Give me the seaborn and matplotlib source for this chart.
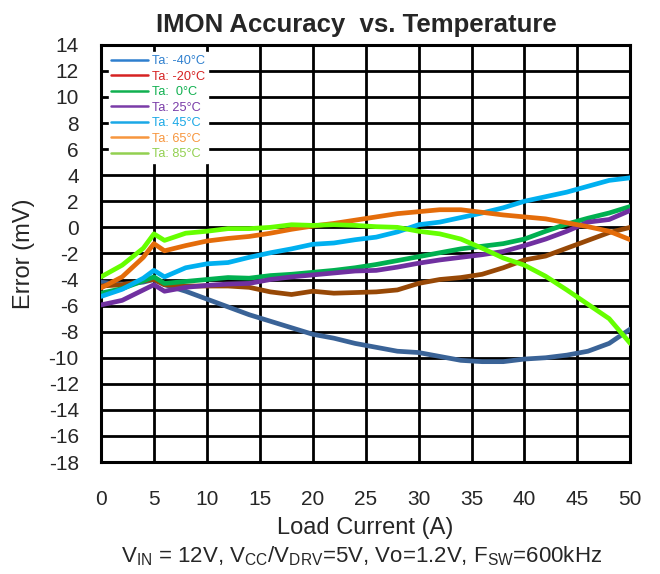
import matplotlib
matplotlib.use("Agg")
import matplotlib.pyplot as plt
from matplotlib.lines import Line2D
import numpy as np
import pandas as pd
import seaborn as sns

# load current (A)
current = [0, 2, 4, 5, 6, 8, 10, 12, 14, 16, 18, 20, 22, 24, 26,
           28, 30, 32, 34, 36, 38, 40, 42, 44, 46, 48, 50]

# IMON error (mV) per ambient temperature
err_m40 = [-4.2, -4.4, -4.2, -4.0, -4.4, -4.9, -5.5, -6.1, -6.7, -7.2, -7.7, -8.2, -8.5, -8.9,
           -9.2, -9.5, -9.6, -9.9, -10.2, -10.3, -10.3, -10.1, -10.0, -9.8, -9.5, -8.9, -7.8]
err_m20 = [-4.5, -4.4, -4.1, -4.0, -4.4, -4.5, -4.5, -4.5, -4.6, -4.95, -5.15, -4.9, -5.05, -5.0,
           -4.95, -4.8, -4.3, -4.0, -3.85, -3.6, -3.1, -2.5, -2.2, -1.6, -1.0, -0.4, 0.0]
err_0 = [-5.05, -4.7, -4.1, -3.8, -4.3, -4.15, -4.0, -3.85, -3.9, -3.7, -3.6, -3.45, -3.3, -3.1,
         -2.85, -2.55, -2.25, -1.95, -1.65, -1.45, -1.25, -0.9, -0.3, 0.25, 0.7, 1.1, 1.6]
err_25 = [-5.95, -5.6, -4.8, -4.4, -4.9, -4.6, -4.45, -4.35, -4.3, -4.0, -3.8, -3.65, -3.5, -3.35,
          -3.3, -3.05, -2.75, -2.5, -2.3, -2.1, -1.85, -1.4, -0.9, -0.3, 0.4, 0.6, 1.3]
err_45 = [-5.3, -4.75, -3.9, -3.3, -3.8, -3.1, -2.8, -2.7, -2.3, -1.95, -1.65, -1.3, -1.2, -0.95,
          -0.75, -0.35, 0.2, 0.4, 0.75, 1.1, 1.5, 2.0, 2.35, 2.7, 3.15, 3.6, 3.8]
err_65 = [-4.65, -3.8, -2.3, -1.25, -1.8, -1.4, -1.05, -0.85, -0.7, -0.45, -0.15, 0.1, 0.3, 0.55,
          0.8, 1.05, 1.2, 1.35, 1.35, 1.15, 0.95, 0.8, 0.65, 0.35, 0.05, -0.3, -0.95]
err_85 = [-3.8, -2.9, -1.6, -0.5, -1.0, -0.45, -0.3, -0.1, -0.1, 0.0, 0.2, 0.15, 0.2, 0.15,
          0.05, 0.0, -0.3, -0.5, -0.9, -1.6, -2.35, -2.9, -3.75, -4.8, -5.9, -7.0, -8.9]

labels = ["Ta: -40°C", "Ta: -20°C", "Ta:  0°C", "Ta: 25°C", "Ta: 45°C", "Ta: 65°C", "Ta: 85°C"]
series = [err_m40, err_m20, err_0, err_25, err_45, err_65, err_85]

line_colors = ["#3a6397", "#974806", "#00b050", "#7030a0", "#00b0f0", "#e46c0a", "#66ff00"]
legend_colors = ["#2e7fce", "#d62222", "#10b050", "#7a3ca8", "#1aa8e6", "#f7963e", "#92d050"]

df = pd.concat([pd.DataFrame({"current": current, "error": s, "temp": lab})
                for lab, s in zip(labels, series)], ignore_index=True)

sns.set_style("white")
plt.rcParams["font.family"] = ["Liberation Sans", "DejaVu Sans"]
plt.rcParams["mathtext.fontset"] = "custom"
plt.rcParams["mathtext.rm"] = "Liberation Sans"
plt.rcParams["axes.unicode_minus"] = False

fig = plt.figure(figsize=(6.6, 5.74), dpi=100)
ax = fig.add_axes([0.153, 0.195, 0.802, 0.727])

sns.lineplot(data=df, x="current", y="error", hue="temp", palette=line_colors,
             linewidth=3.4, ax=ax, legend=False, zorder=3)

ax.set_xlim(0, 50)
ax.set_ylim(-18, 14)
ax.set_xticks(np.arange(0, 51, 5))
ax.set_yticks(np.arange(-18, 15, 2))
ax.grid(True, color="black", linewidth=2.0)
ax.set_axisbelow(True)
for sp in ax.spines.values():
    sp.set_color("black")
    sp.set_linewidth(2.2)
ax.tick_params(axis="both", length=0, labelsize=15)
ax.tick_params(axis="x", pad=20)
ax.tick_params(axis="y", pad=16)

ax.set_xlabel("Load Current (A)", fontsize=17, labelpad=6)
ax.set_ylabel("Error (mV)", fontsize=17, labelpad=10)
ax.set_title("IMON Accuracy  vs. Temperature", fontsize=18.5, fontweight="bold",
             pad=9, x=0.482)

fig.text(0.548, 0.031,
         r"V$_{\mathregular{IN}}$ = 12V, V$_{\mathregular{CC}}$/V$_{\mathregular{DRV}}$=5V, "
         r"Vo=1.2V, F$_{\mathregular{SW}}$=600kHz",
         ha="center", va="center", fontsize=16)

handles = [Line2D([0], [0], color=c, linewidth=1.8) for c in legend_colors]
leg = ax.legend(handles, labels, loc="upper left", fontsize=9.2, frameon=True,
                framealpha=1, edgecolor="white", facecolor="white", fancybox=False,
                borderpad=0.2, labelspacing=0.28, handlelength=2.9, handletextpad=0.3,
                borderaxespad=0.6)
for txt, c in zip(leg.get_texts(), legend_colors):
    txt.set_color(c)

fig.savefig("out.png", dpi=100)
